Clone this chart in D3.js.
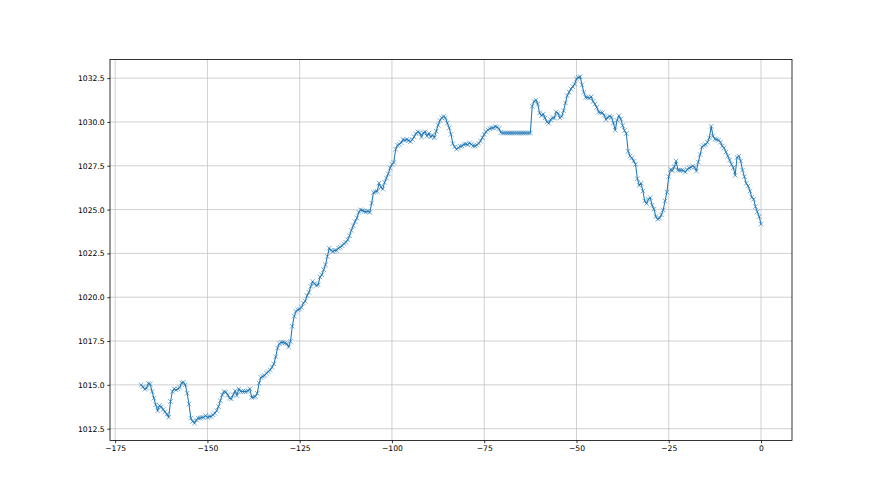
<!DOCTYPE html>
<html>
<head>
<meta charset="utf-8">
<script src="https://cdn.jsdelivr.net/npm/d3@7"></script>
<style>
  html, body { margin: 0; padding: 0; background: #fff; }
  svg { display: block; }
  .tick text { font-family: "DejaVu Sans", sans-serif; font-size: 7.64px; fill: #000; }
</style>
</head>
<body>
<div id="chart"></div>
<script>
// hours before now (half-hour samples)
const hours = [
  -168,-167.5,-167,-166.5,-166,-165.5,-165,-164.5,-164,-163.5,-163,-162.5,-162,-161.5,-161,-160.5,-160,-159.5,-159,-158.5,
  -158,-157.5,-157,-156.5,-156,-155.5,-155,-154.5,-154,-153.5,-153,-152.5,-152,-151.5,-151,-150.5,-150,-149.5,-149,-148.5,
  -148,-147.5,-147,-146.5,-146,-145.5,-145,-144.5,-144,-143.5,-143,-142.5,-142,-141.5,-141,-140.5,-140,-139.5,-139,-138.5,
  -138,-137.5,-137,-136.5,-136,-135.5,-135,-134.5,-134,-133.5,-133,-132.5,-132,-131.5,-131,-130.5,-130,-129.5,-129,-128.5,
  -128,-127.5,-127,-126.5,-126,-125.5,-125,-124.5,-124,-123.5,-123,-122.5,-122,-121.5,-121,-120.5,-120,-119.5,-119,-118.5,
  -118,-117.5,-117,-116.5,-116,-115.5,-115,-114.5,-114,-113.5,-113,-112.5,-112,-111.5,-111,-110.5,-110,-109.5,-109,-108.5,
  -108,-107.5,-107,-106.5,-106,-105.5,-105,-104.5,-104,-103.5,-103,-102.5,-102,-101.5,-101,-100.5,-100,-99.5,-99,-98.5,
  -98,-97.5,-97,-96.5,-96,-95.5,-95,-94.5,-94,-93.5,-93,-92.5,-92,-91.5,-91,-90.5,-90,-89.5,-89,-88.5,
  -88,-87.5,-87,-86.5,-86,-85.5,-85,-84.5,-84,-83.5,-83,-82.5,-82,-81.5,-81,-80.5,-80,-79.5,-79,-78.5,
  -78,-77.5,-77,-76.5,-76,-75.5,-75,-74.5,-74,-73.5,-73,-72.5,-72,-71.5,-71,-70.5,-70,-69.5,-69,-68.5,
  -68,-67.5,-67,-66.5,-66,-65.5,-65,-64.5,-64,-63.5,-63,-62.5,-62,-61.5,-61,-60.5,-60,-59.5,-59,-58.5,
  -58,-57.5,-57,-56.5,-56,-55.5,-55,-54.5,-54,-53.5,-53,-52.5,-52,-51.5,-51,-50.5,-50,-49.5,-49,-48.5,
  -48,-47.5,-47,-46.5,-46,-45.5,-45,-44.5,-44,-43.5,-43,-42.5,-42,-41.5,-41,-40.5,-40,-39.5,-39,-38.5,
  -38,-37.5,-37,-36.5,-36,-35.5,-35,-34.5,-34,-33.5,-33,-32.5,-32,-31.5,-31,-30.5,-30,-29.5,-29,-28.5,
  -28,-27.5,-27,-26.5,-26,-25.5,-25,-24.5,-24,-23.5,-23,-22.5,-22,-21.5,-21,-20.5,-20,-19.5,-19,-18.5,
  -18,-17.5,-17,-16.5,-16,-15.5,-15,-14.5,-14,-13.5,-13,-12.5,-12,-11.5,-11,-10.5,-10,-9.5,-9,-8.5,
  -8,-7.5,-7,-6.5,-6,-5.5,-5,-4.5,-4,-3.5,-3,-2.5,-2,-1.5,-1,-0.5,
  0
];

// pressure readings
const pressure = [
  1015.00,1014.89,1014.75,1014.81,1015.08,1015.04,1014.62,1014.24,1013.86,1013.52,1013.82,1013.74,1013.59,1013.46,1013.33,1013.15,1014.05,1014.62,1014.77,1014.71,
  1014.77,1014.85,1015.11,1015.15,1015.00,1014.52,1013.90,1013.10,1012.91,1012.81,1013.00,1013.10,1013.10,1013.14,1013.14,1013.25,1013.14,1013.19,1013.19,1013.29,
  1013.38,1013.52,1013.76,1014.09,1014.43,1014.62,1014.58,1014.43,1014.24,1014.20,1014.43,1014.66,1014.39,1014.77,1014.62,1014.62,1014.62,1014.62,1014.66,1014.77,
  1014.28,1014.30,1014.33,1014.52,1015.10,1015.42,1015.48,1015.53,1015.67,1015.75,1015.85,1016.00,1016.20,1016.60,1017.10,1017.35,1017.42,1017.42,1017.39,1017.35,
  1017.16,1017.48,1018.34,1018.91,1019.19,1019.29,1019.32,1019.42,1019.67,1019.78,1020.09,1020.28,1020.62,1020.90,1020.77,1020.67,1020.71,1021.15,1021.28,1021.57,
  1021.85,1022.33,1022.80,1022.67,1022.61,1022.67,1022.67,1022.80,1022.86,1022.94,1023.05,1023.13,1023.28,1023.51,1023.81,1024.08,1024.32,1024.52,1024.84,1024.99,
  1024.95,1024.90,1024.88,1024.90,1024.84,1025.37,1025.98,1026.02,1026.04,1026.51,1026.28,1026.17,1026.55,1026.80,1027.04,1027.37,1027.58,1027.69,1028.44,1028.67,
  1028.72,1028.82,1029.00,1028.95,1029.00,1028.95,1028.87,1029.00,1029.15,1029.34,1029.44,1029.38,1029.14,1029.38,1029.44,1029.19,1029.36,1029.14,1029.25,1029.10,
  1029.47,1029.81,1030.08,1030.23,1030.32,1030.23,1029.94,1029.66,1029.29,1028.76,1028.57,1028.44,1028.53,1028.61,1028.63,1028.72,1028.74,1028.70,1028.80,1028.72,
  1028.63,1028.63,1028.68,1028.78,1028.91,1029.10,1029.29,1029.44,1029.55,1029.62,1029.66,1029.66,1029.74,1029.70,1029.62,1029.40,1029.37,1029.37,1029.37,1029.37,
  1029.37,1029.37,1029.37,1029.37,1029.37,1029.37,1029.37,1029.37,1029.37,1029.37,1029.37,1029.37,1030.89,1031.17,1031.25,1031.02,1030.51,1030.36,1030.45,1030.23,
  1030.00,1029.92,1030.13,1030.23,1030.23,1030.57,1030.49,1030.23,1030.32,1030.64,1031.08,1031.50,1031.70,1031.89,1032.01,1032.16,1032.46,1032.54,1032.58,1032.12,
  1031.69,1031.40,1031.40,1031.36,1031.44,1031.17,1031.02,1030.83,1030.57,1030.53,1030.53,1030.38,1030.13,1030.27,1030.32,1030.27,1029.94,1029.53,1030.09,1030.36,
  1030.17,1029.79,1029.51,1029.34,1028.33,1028.05,1027.95,1027.77,1027.58,1026.76,1026.38,1026.50,1026.06,1025.49,1025.34,1025.59,1025.68,1025.25,1025.02,1024.60,
  1024.45,1024.51,1024.70,1024.98,1025.49,1026.00,1026.88,1027.29,1027.22,1027.44,1027.77,1027.25,1027.25,1027.25,1027.23,1027.14,1027.29,1027.37,1027.42,1027.48,
  1027.42,1027.20,1027.71,1028.14,1028.58,1028.66,1028.71,1028.84,1029.09,1029.75,1029.19,1029.03,1029.00,1028.96,1028.84,1028.62,1028.52,1028.28,1028.05,1027.82,
  1027.58,1027.39,1026.95,1027.97,1028.05,1027.77,1027.25,1026.88,1026.50,1026.34,1026.06,1025.70,1025.59,1025.17,1024.87,1024.60,1024.17
];

const xTicks = [-175, -150, -125, -100, -75, -50, -25, 0];
const yTicks = [1012.5, 1015.0, 1017.5, 1020.0, 1022.5, 1025.0, 1027.5, 1030.0, 1032.5];

const width = 880;
const height = 495;
// matplotlib default subplot box
const margin = { top: 59.4, right: 88, bottom: 54.45, left: 110 };
const lineColor = "#1f77b4";

const data = hours.map((h, i) => ({ h: h, p: pressure[i] }));

// 5% padding like matplotlib autoscale
function padded(ext) {
    const d = (ext[1] - ext[0]) * 0.05;
    return [ext[0] - d, ext[1] + d];
}

const svg = d3.select("#chart")
    .append("svg")
    .attr("width", width)
    .attr("height", height);

svg.append("rect").attr("width", width).attr("height", height).attr("fill", "#fff");

const xScale = d3.scaleLinear()
    .domain(padded(d3.extent(hours)))
    .range([margin.left, width - margin.right]);

const yScale = d3.scaleLinear()
    .domain(padded(d3.extent(pressure)))
    .range([height - margin.bottom, margin.top]);

const fmtX = d => (d < 0 ? "\u2212" + Math.abs(d) : "" + d);

// grid lines
const grid = svg.append("g").attr("stroke", "#c4c4c4").attr("stroke-width", 0.8);
grid.selectAll(".gx")
    .data(xTicks)
    .enter()
    .append("line")
    .attr("x1", d => xScale(d)).attr("x2", d => xScale(d))
    .attr("y1", margin.top).attr("y2", height - margin.bottom);
grid.selectAll(".gy")
    .data(yTicks)
    .enter()
    .append("line")
    .attr("y1", d => yScale(d)).attr("y2", d => yScale(d))
    .attr("x1", margin.left).attr("x2", width - margin.right);

// the line itself
const line = d3.line()
    .x(d => xScale(d.h))
    .y(d => yScale(d.p));

svg.append("path")
    .datum(data)
    .attr("fill", "none")
    .attr("stroke", lineColor)
    .attr("stroke-width", 1.05)
    .attr("stroke-linejoin", "round")
    .attr("stroke-linecap", "square")
    .attr("d", line);

// 'x' markers
const s = 2.29;
svg.append("g")
    .selectAll("path")
    .data(data)
    .enter()
    .append("path")
    .attr("transform", d => `translate(${xScale(d.h)},${yScale(d.p)})`)
    .attr("d", `M${-s},${-s}L${s},${s}M${-s},${s}L${s},${-s}`)
    .attr("stroke", lineColor)
    .attr("stroke-width", 0.7)
    .attr("stroke-opacity", 0.85)
    .attr("fill", "none");

// axes
const xAxis = d3.axisBottom(xScale)
    .tickValues(xTicks)
    .tickFormat(fmtX)
    .tickSize(2.67)
    .tickPadding(2.67);

const yAxis = d3.axisLeft(yScale)
    .tickValues(yTicks)
    .tickFormat(d3.format(".1f"))
    .tickSize(2.67)
    .tickPadding(2.67);

const gx = svg.append("g")
    .attr("transform", `translate(0,${height - margin.bottom})`)
    .call(xAxis);
const gy = svg.append("g")
    .attr("transform", `translate(${margin.left},0)`)
    .call(yAxis);

[gx, gy].forEach(g => {
    g.select(".domain").remove();
    g.selectAll(".tick line").attr("stroke", "#000").attr("stroke-width", 0.8);
});

// spines
svg.append("rect")
    .attr("x", margin.left)
    .attr("y", margin.top)
    .attr("width", width - margin.left - margin.right)
    .attr("height", height - margin.top - margin.bottom)
    .attr("fill", "none")
    .attr("stroke", "#000")
    .attr("stroke-width", 0.8);
</script>
</body>
</html>
